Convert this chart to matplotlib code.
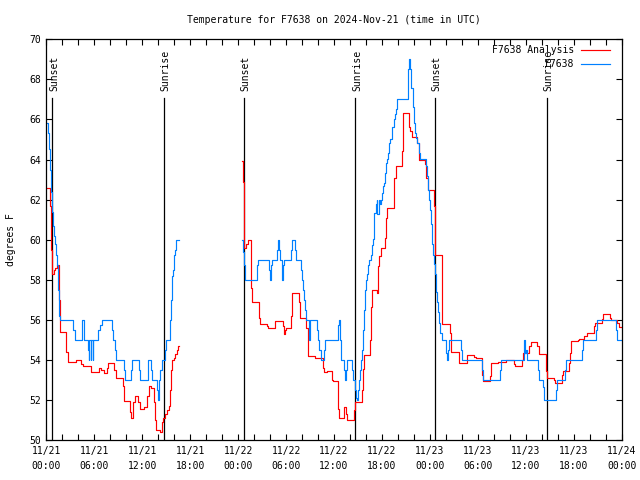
import matplotlib
matplotlib.use('Agg')
import matplotlib.pyplot as plt
import numpy as np

plt.rcParams['font.family'] = ['DejaVu Sans Mono']
plt.rcParams['font.size'] = 7

# hours since 2024-11-21 00:00 UTC, step data
analysis_t = [0.0, 0.46, 0.6, 0.67, 0.75, 1.0, 1.125, 1.33, 1.625, 1.75, 2.5, 2.75, 3.7,
              4.4, 4.6, 5.55, 6.55, 6.9, 7.25, 7.55, 7.75, 8.5, 8.75, 9.55, 9.75, 10.5,
              10.6, 10.9, 11.05, 11.5, 11.75, 12.2, 12.55, 12.85, 13.05, 13.45, 13.6, 13.75,
              14.2, 14.45, 14.6, 14.9, 15.1, 15.4, 15.5, 15.6, 15.75, 16.0, 16.15, 16.3,
              16.45, 16.6,
              24.46, 24.58, 24.71, 25.0, 25.25, 25.58, 25.75, 26.67, 26.79, 27.58, 27.75,
              28.67, 29.625, 29.75, 29.875, 30.0, 30.58, 30.75, 31.58, 31.75, 32.46, 32.71,
              33.58, 34.58, 34.71, 35.125, 35.71, 35.83, 36.46, 36.625, 37.25, 37.5, 37.625,
              38.5, 38.625, 39.5, 39.625, 39.75, 40.5, 40.625, 40.75, 41.33, 41.5, 41.625,
              41.875, 42.375, 42.46, 42.58, 43.46, 43.71, 44.46, 44.625, 45.375, 45.54,
              45.71, 46.42, 46.6, 47.42, 47.54, 47.79, 48.5, 48.67, 49.46, 50.5, 50.58,
              51.58, 52.58, 53.5, 53.71, 54.5, 54.625, 55.5, 55.625, 56.5, 57.5, 57.625,
              58.5, 58.625, 59.5, 59.625, 60.46, 60.625, 61.42, 61.625, 62.5, 62.625, 63.5,
              63.625, 64.5, 64.625, 65.375, 65.5, 65.67, 66.5, 66.625, 67.29, 67.625, 68.5,
              68.625, 69.5, 69.625, 70.5, 70.625, 71.42, 71.625, 72.0]
analysis_v = [62.6, 61.7, 59.5, 58.4, 58.3, 58.5, 58.6, 58.75, 57.0, 55.4, 54.4, 53.9, 54.0,
              53.8, 53.7, 53.4, 53.6, 53.5, 53.35, 53.6, 53.85, 53.5, 53.1, 52.7, 51.95, 51.4,
              51.1, 51.9, 52.2, 51.9, 51.55, 51.65, 52.2, 52.7, 52.6, 51.9, 51.0, 50.5,
              50.4, 50.9, 51.1, 51.3, 51.5, 51.7, 52.5, 53.5, 54.0, 54.1, 54.3, 54.5,
              54.7, np.nan,
              63.95, 62.9, 59.6, 59.8, 60.0, 57.6, 56.9, 56.1, 55.8, 55.7, 55.6,
              55.95, 55.7, 55.3, 55.5, 55.6, 56.2, 57.33, 56.9, 56.1, 55.6, 54.17,
              54.08, 53.6, 53.4, 53.45, 53.0, 52.95, 51.57, 51.1, 51.67, 51.3, 51.0,
              51.5, 51.9, 52.5, 53.55, 54.23, 55.0, 56.63, 57.47, 57.33, 58.67, 59.17,
              59.6, 60.1, 61.1, 61.6, 63.1, 63.7, 64.4, 66.3, 65.6, 65.4,
              65.1, 64.8, 64.0, 63.8, 63.1, 62.5, 61.7, 59.25, 55.78, 55.33, 54.38,
              53.83, 54.23, 54.13, 54.08, 53.25, 52.93, 53.2, 53.83, 53.9, 53.97, 54.0,
              53.8, 53.67, 54.0, 54.33, 54.67, 54.88, 54.67, 54.28, 53.42, 53.08, 53.0,
              52.83, 53.25, 53.42, 53.83, 54.33, 54.92, 55.0, 55.03, 55.2, 55.33, 55.67,
              55.83, 56.05, 56.28, 56.08, 56.0, 55.85, 55.63, 55.63]

obs_t = [0.1, 0.25, 0.375, 0.5, 0.625, 0.75, 0.875, 1.0, 1.125, 1.25, 1.33, 1.42, 1.54,
         1.625, 1.71, 3.375, 3.54, 4.42, 4.75, 5.25, 5.3, 5.36, 5.55, 5.61, 5.8, 5.86,
         6.5, 6.75, 7.0, 8.17, 8.33, 8.54, 8.67, 9.67, 9.79, 10.625, 10.75, 11.625, 11.75,
         12.67, 13.125, 13.25, 13.875, 14.0, 14.125, 14.25, 14.5, 14.83, 15.0, 15.54,
         15.625, 15.75, 15.875, 16.0, 16.125, 16.25, 16.55,
         24.46, 24.58, 24.71, 24.83, 26.375, 26.5, 27.83, 28.0, 28.125, 28.25, 28.875,
         29.0, 29.125, 29.25, 29.5, 29.625, 29.75, 30.625, 30.75, 31.125, 31.25, 31.875,
         32.0, 32.125, 32.25, 32.375, 32.54, 32.875, 33.04, 33.875, 34.0, 34.17, 34.33,
         34.79, 34.92, 36.46, 36.58, 36.75, 36.875, 37.25, 37.375, 37.5, 37.625, 38.25,
         38.375, 38.625, 38.75, 38.875, 39.0, 39.125, 39.25, 39.375, 39.5, 39.625, 39.75,
         39.875, 40.0, 40.125, 40.25, 40.375, 40.625, 40.75, 40.875, 41.04, 41.21, 41.33,
         41.42, 41.58, 41.71, 41.83, 41.96, 42.125, 42.25, 42.375, 42.54, 42.67, 42.79,
         42.92, 43.04, 43.29, 43.46, 43.58, 43.75, 43.875, 45.25, 45.33, 45.46, 45.54,
         45.67, 45.83, 46.0, 46.17, 46.29, 46.42, 46.58, 46.71, 47.46, 47.58, 47.71,
         47.83, 47.96, 48.08, 48.21, 48.33, 48.46, 48.58, 48.71, 48.83, 48.96, 49.08,
         49.21, 49.46, 50.0, 50.125, 50.29, 50.375, 51.875, 52.04, 54.46, 54.625, 56.75,
         56.875, 59.75, 59.83, 59.92, 60.0, 60.125, 61.5, 61.625, 62.17, 62.29, 63.75,
         63.875, 64.92, 65.04, 67.0, 67.125, 68.75, 68.875, 71.25, 71.375, 72.0]
obs_v = [65.8, 65.3, 64.5, 63.5, 62.4, 61.4, 60.7, 60.2, 59.8, 59.25, 58.75, 57.5, 56.75,
         56.2, 56.0, 55.5, 55.0, 56.0, 55.0, 54.5, 54.0, 55.0, 54.0, 55.0, 54.0, 55.0,
         55.5, 55.75, 56.0, 55.5, 55.0, 54.5, 54.0, 53.5, 53.0, 53.5, 54.0, 53.5, 53.0,
         54.0, 53.5, 53.0, 52.5, 52.0, 53.0, 53.5, 54.0, 54.5, 55.0, 56.0,
         57.0, 58.2, 58.5, 59.25, 59.5, 60.0, np.nan,
         60.0, 59.4, 58.75, 58.0, 58.75, 59.0, 58.5, 58.0, 58.75, 59.0, 59.5,
         60.0, 59.5, 59.0, 58.0, 58.75, 59.0, 59.5, 60.0, 59.5, 59.0, 58.5,
         58.0, 57.5, 57.0, 56.5, 56.0, 55.0, 56.0, 55.5, 55.0, 54.5, 54.0,
         54.5, 55.0, 55.75, 56.0, 55.0, 54.0, 53.5, 53.0, 53.5, 54.0, 53.5,
         53.0, 52.5, 52.1, 52.0, 52.5, 53.0, 53.5, 54.0, 54.5, 55.5, 56.5,
         57.5, 58.0, 58.3, 58.75, 59.0, 59.25, 59.75, 60.05, 61.33, 61.8, 62.0,
         61.3, 62.0, 61.8, 62.0, 62.33, 62.67, 62.83, 63.33, 63.83, 64.03, 64.33,
         64.83, 65.03, 65.6, 66.0, 66.25, 66.5, 67.03, 68.5, 69.03, 68.7, 68.5,
         67.58, 66.6, 65.8, 65.33, 65.08, 64.83, 64.3, 64.03, 63.67, 63.17, 62.5,
         62.0, 61.5, 60.8, 59.8, 59.25, 58.8, 58.3, 57.4, 56.9, 56.4, 55.83,
         55.33, 55.0, 54.33, 54.0, 54.5, 55.0, 54.5, 54.0, 53.5, 53.0, 53.5,
         54.0, 54.67, 55.0, 54.33, 54.5, 54.0, 53.5, 53.0, 52.67, 52.0, 52.5,
         53.0, 53.5, 54.0, 54.5, 55.0, 55.5, 56.0, 55.5, 55.0, 55.0]

sun_t = [0.75, 14.75, 24.75, 38.67, 48.625, 62.625]
sun_labels = ['Sunset', 'Sunrise', 'Sunset', 'Sunrise', 'Sunset', 'Sunrise']

xtick_pos = [0, 6, 12, 18, 24, 30, 36, 42, 48, 54, 60, 66, 72]
xtick_labels = ['11/21\n00:00', '11/21\n06:00', '11/21\n12:00', '11/21\n18:00',
                '11/22\n00:00', '11/22\n06:00', '11/22\n12:00', '11/22\n18:00',
                '11/23\n00:00', '11/23\n06:00', '11/23\n12:00', '11/23\n18:00',
                '11/24\n00:00']

fig = plt.figure(figsize=(6.4, 4.8), dpi=100)
ax = fig.add_axes([46.3 / 640, 40 / 480, 575.4 / 640, 400.7 / 480])

for t, lab in zip(sun_t, sun_labels):
    ax.plot([t, t], [50, 67.05], color='black', lw=0.9, zorder=1)
    ax.text(t + 0.2, 67.4, lab, rotation=90, ha='center', va='bottom', fontsize=7)

ax.plot(analysis_t, analysis_v, drawstyle='steps-post', color='#ff0000', lw=0.85,
        label='F7638 Analysis', zorder=2)
ax.plot(obs_t, obs_v, drawstyle='steps-post', color='#0080ff', lw=0.85,
        label='F7638', zorder=2)

ax.set_xlim(0, 72)
ax.set_ylim(50, 70)
ax.set_xticks(xtick_pos)
ax.set_xticklabels(xtick_labels, linespacing=1.6)
ax.set_xticks(np.arange(0, 73, 2), minor=True)
ax.set_yticks(np.arange(50, 71, 2))
ax.tick_params(axis='both', which='both', direction='in', length=4, width=0.8,
               top=True, right=True, labelsize=7)
ax.tick_params(axis='x', pad=4.5)
ax.tick_params(axis='y', pad=4)
for s in ax.spines.values():
    s.set_linewidth(0.9)

ax.set_ylabel('degrees F', fontsize=7, labelpad=9)
ax.set_title('Temperature for F7638 on 2024-Nov-21 (time in UTC)', fontsize=7, pad=12)

ax.legend(loc='upper right', bbox_to_anchor=(0.9897, 1.0), markerfirst=False,
          frameon=False, fontsize=7, handlelength=3.0, handletextpad=0.7,
          borderaxespad=0.0, borderpad=0.6, labelspacing=0.4)

fig.savefig('out.png', dpi=100)
